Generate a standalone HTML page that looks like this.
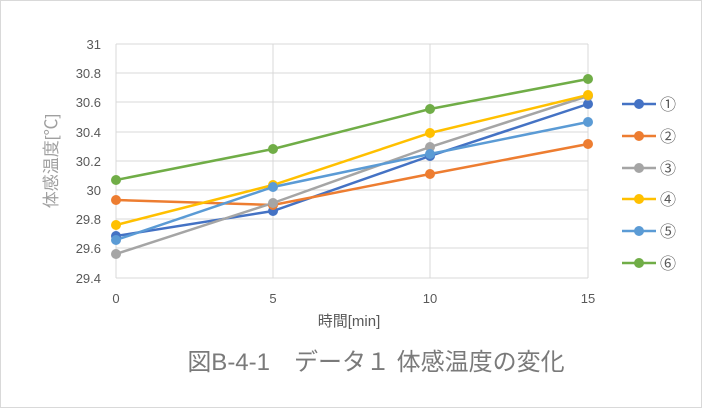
<!DOCTYPE html><html><head><meta charset="utf-8"><style>body{margin:0;background:#fff}svg{display:block}text{font-family:"Liberation Sans","Noto Sans CJK JP",sans-serif;fill:#595959}</style></head><body>
<svg width="702" height="408" xmlns="http://www.w3.org/2000/svg">
<rect x="0.5" y="0.5" width="701" height="407" fill="#fff" stroke="#d9d9d9"/>
<g stroke="#d9d9d9" stroke-width="1">
<line x1="116" y1="44" x2="588" y2="44"/><line x1="116" y1="73" x2="588" y2="73"/><line x1="116" y1="102" x2="588" y2="102"/><line x1="116" y1="132" x2="588" y2="132"/><line x1="116" y1="161" x2="588" y2="161"/><line x1="116" y1="190" x2="588" y2="190"/><line x1="116" y1="219" x2="588" y2="219"/><line x1="116" y1="248" x2="588" y2="248"/><line x1="116" y1="278" x2="588" y2="278"/>
<line x1="116" y1="44" x2="116" y2="278"/><line x1="273" y1="44" x2="273" y2="278"/><line x1="430" y1="44" x2="430" y2="278"/><line x1="588" y1="44" x2="588" y2="278"/>
</g>
<g font-size="13" text-anchor="end">
<text x="101" y="49">31</text><text x="101" y="78">30.8</text><text x="101" y="107">30.6</text><text x="101" y="137">30.4</text><text x="101" y="166">30.2</text><text x="101" y="195">30</text><text x="101" y="224">29.8</text><text x="101" y="253">29.6</text><text x="101" y="283">29.4</text>
</g>
<g font-size="13" text-anchor="middle">
<text x="116" y="303">0</text><text x="273" y="303">5</text><text x="430" y="303">10</text><text x="588" y="303">15</text>
<text x="349" y="326" font-size="15">時間[min]</text>
</g>
<text transform="translate(57,161) rotate(-90)" font-size="17" text-anchor="middle" style="fill:#a0a0a0">体感温度[℃]</text>
<g stroke-width="2.5" fill="none">
<polyline stroke="#4472C4" points="116,236 273,211 430,156 588,104"/>
<polyline stroke="#ED7D31" points="116,200 273,205 430,174 588,144"/>
<polyline stroke="#A5A5A5" points="116,254 273,203 430,147 588,96"/>
<polyline stroke="#FFC000" points="116,225 273,185 430,133 588,95"/>
<polyline stroke="#5B9BD5" points="116,240 273,187 430,154 588,122"/>
<polyline stroke="#70AD47" points="116,180 273,149 430,109 588,79"/>
</g>
<g fill="#4472C4"><circle cx="116" cy="236" r="5"/><circle cx="273" cy="211" r="5"/><circle cx="430" cy="156" r="5"/><circle cx="588" cy="104" r="5"/></g>
<g fill="#ED7D31"><circle cx="116" cy="200" r="5"/><circle cx="273" cy="205" r="5"/><circle cx="430" cy="174" r="5"/><circle cx="588" cy="144" r="5"/></g>
<g fill="#A5A5A5"><circle cx="116" cy="254" r="5"/><circle cx="273" cy="203" r="5"/><circle cx="430" cy="147" r="5"/><circle cx="588" cy="96" r="5"/></g>
<g fill="#FFC000"><circle cx="116" cy="225" r="5"/><circle cx="273" cy="185" r="5"/><circle cx="430" cy="133" r="5"/><circle cx="588" cy="95" r="5"/></g>
<g fill="#5B9BD5"><circle cx="116" cy="240" r="5"/><circle cx="273" cy="187" r="5"/><circle cx="430" cy="154" r="5"/><circle cx="588" cy="122" r="5"/></g>
<g fill="#70AD47"><circle cx="116" cy="180" r="5"/><circle cx="273" cy="149" r="5"/><circle cx="430" cy="109" r="5"/><circle cx="588" cy="79" r="5"/></g>
<g stroke-width="2.5" font-size="16">
<line x1="622" y1="104" x2="656" y2="104" stroke="#4472C4"/><circle cx="639" cy="104" r="5" fill="#4472C4"/><text x="660" y="110">①</text>
<line x1="622" y1="136" x2="656" y2="136" stroke="#ED7D31"/><circle cx="639" cy="136" r="5" fill="#ED7D31"/><text x="660" y="142">②</text>
<line x1="622" y1="168" x2="656" y2="168" stroke="#A5A5A5"/><circle cx="639" cy="168" r="5" fill="#A5A5A5"/><text x="660" y="174">③</text>
<line x1="622" y1="199" x2="656" y2="199" stroke="#FFC000"/><circle cx="639" cy="199" r="5" fill="#FFC000"/><text x="660" y="205">④</text>
<line x1="622" y1="231" x2="656" y2="231" stroke="#5B9BD5"/><circle cx="639" cy="231" r="5" fill="#5B9BD5"/><text x="660" y="237">⑤</text>
<line x1="622" y1="263" x2="656" y2="263" stroke="#70AD47"/><circle cx="639" cy="263" r="5" fill="#70AD47"/><text x="660" y="269">⑥</text>
</g>
<text x="376" y="370" font-size="24" text-anchor="middle" style="fill:#7a7a7a">図B-4-1　データ１ 体感温度の変化</text>
</svg></body></html>
